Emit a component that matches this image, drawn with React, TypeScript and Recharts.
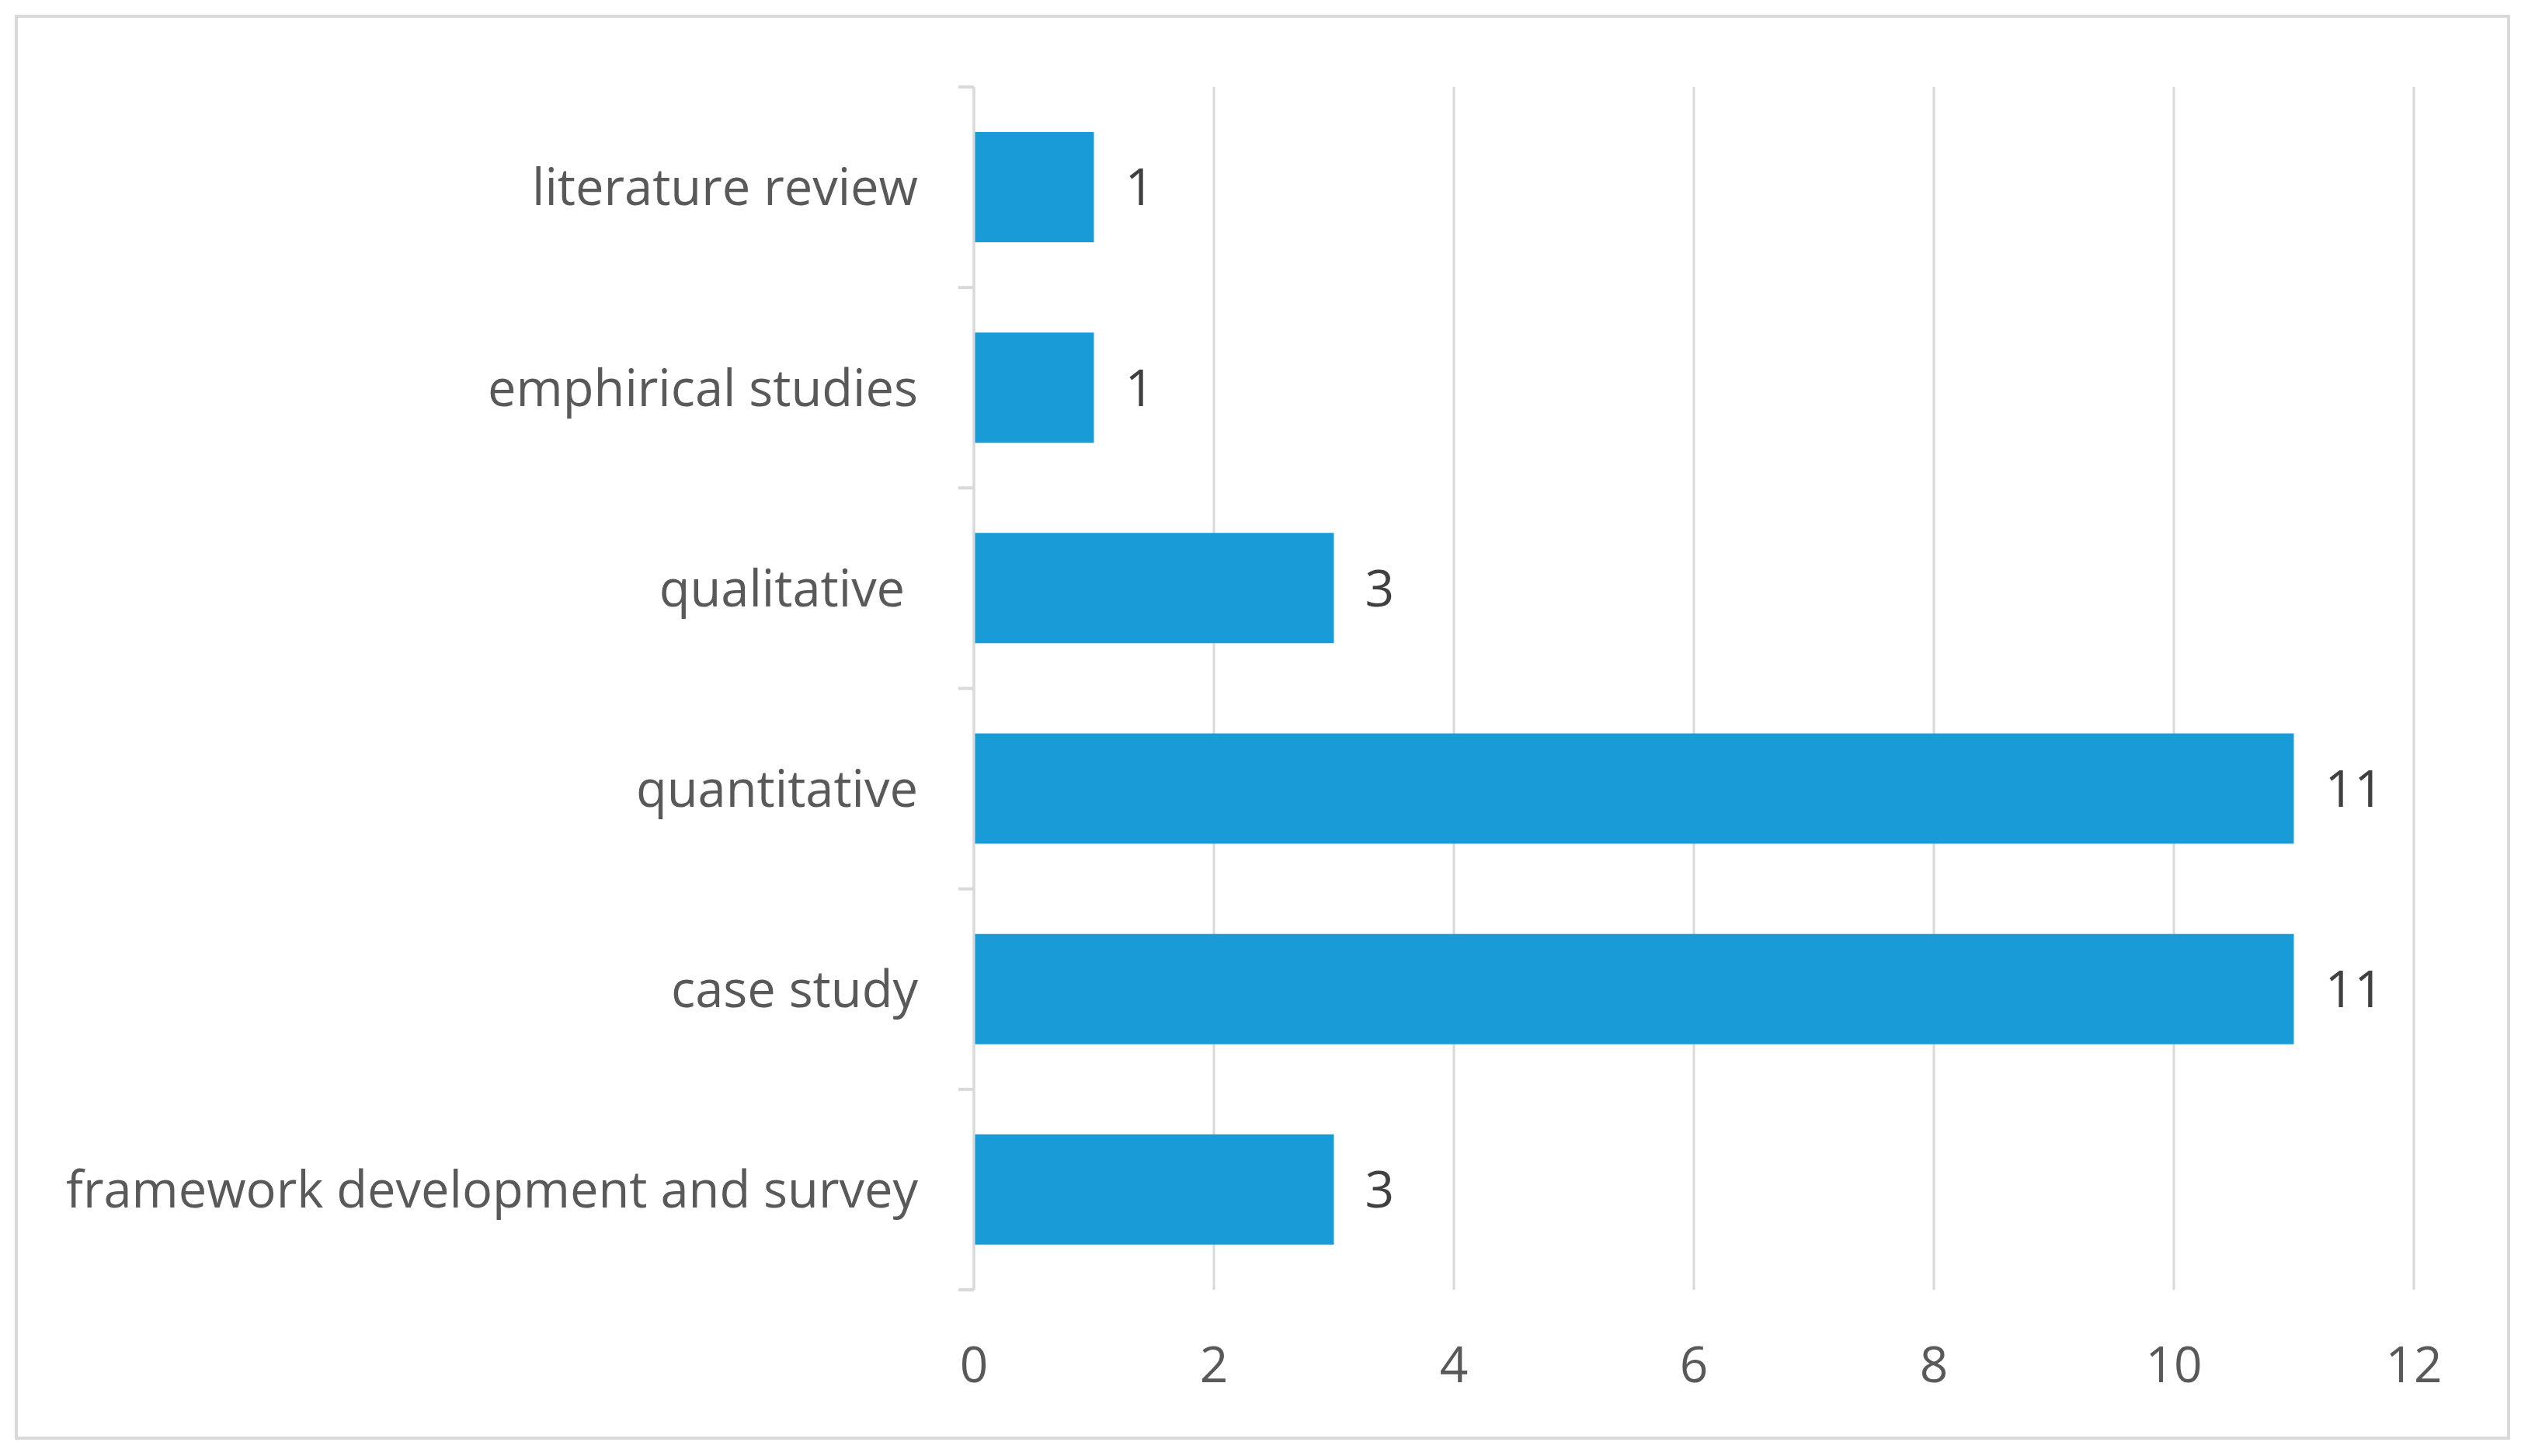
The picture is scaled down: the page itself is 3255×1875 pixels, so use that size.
import { BarChart, Bar, XAxis, YAxis, CartesianGrid, LabelList } from "recharts"

const categories = [
  "literature review",
  "emphirical studies",
  "qualitative ",
  "quantitative",
  "case study",
  "framework development and survey",
]
const counts = [1, 1, 3, 11, 11, 3]
const xTicks = [0, 2, 4, 6, 8, 10, 12]

const data = categories.map((name, i) => ({ name, count: counts[i] }))

const FONT = "'Open Sans', sans-serif"
const GRID = "#d9d9d9"
const TICK_GAP = 52
const TICK_LEN = 20

// category label plus a short tick mark on each band boundary (Excel style)
function CategoryTick(props: any) {
  const { x, y, payload, index, visibleTicksCount } = props
  const half = payload?.offset ?? 0
  const x1 = x + TICK_GAP
  const x2 = x + TICK_GAP + TICK_LEN
  return (
    <g>
      <line x1={x1} x2={x2} y1={y - half} y2={y - half} stroke={GRID} strokeWidth={4} />
      {index === visibleTicksCount - 1 && (
        <line x1={x1} x2={x2} y1={y + half} y2={y + half} stroke={GRID} strokeWidth={4} />
      )}
      <text
        x={x}
        y={y}
        dy="0.36em"
        textAnchor="end"
        fill="#595959"
        fontSize={65}
        fontFamily={FONT}
        style={{ whiteSpace: "pre" }}
      >
        {payload.value}
      </text>
    </g>
  )
}

export default function App() {
  return (
    <div style={{ position: "absolute", left: 0, top: 0, width: 3255, height: 1875, background: "#fff" }}>
      <div
        style={{
          position: "absolute",
          left: 19,
          top: 19,
          width: 3205,
          height: 1827,
          border: "4px solid #d9d9d9",
        }}
      />
      <div style={{ position: "absolute", left: 0, top: 0 }}>
        <BarChart
          width={3255}
          height={1875}
          data={data}
          layout="vertical"
          margin={{ top: 112, right: 147, bottom: 134, left: 0 }}
        >
          <CartesianGrid horizontal={false} stroke={GRID} strokeWidth={3} />
          <XAxis
            type="number"
            domain={[0, 12]}
            ticks={xTicks}
            axisLine={false}
            tickLine={false}
            tickMargin={68}
            height={80}
            tick={{ fill: "#595959", fontSize: 64, fontFamily: FONT }}
          />
          <YAxis
            type="category"
            dataKey="name"
            width={1254}
            axisLine={{ stroke: GRID, strokeWidth: 3 }}
            tickLine={false}
            tickSize={TICK_LEN}
            tickMargin={TICK_GAP}
            tick={<CategoryTick />}
          />
          <Bar dataKey="count" fill="#189bd7" barSize={142} isAnimationActive={false}>
            <LabelList
              dataKey="count"
              position="right"
              offset={40}
              fill="#404040"
              fontSize={66}
              fontFamily={FONT}
            />
          </Bar>
        </BarChart>
      </div>
    </div>
  )
}
